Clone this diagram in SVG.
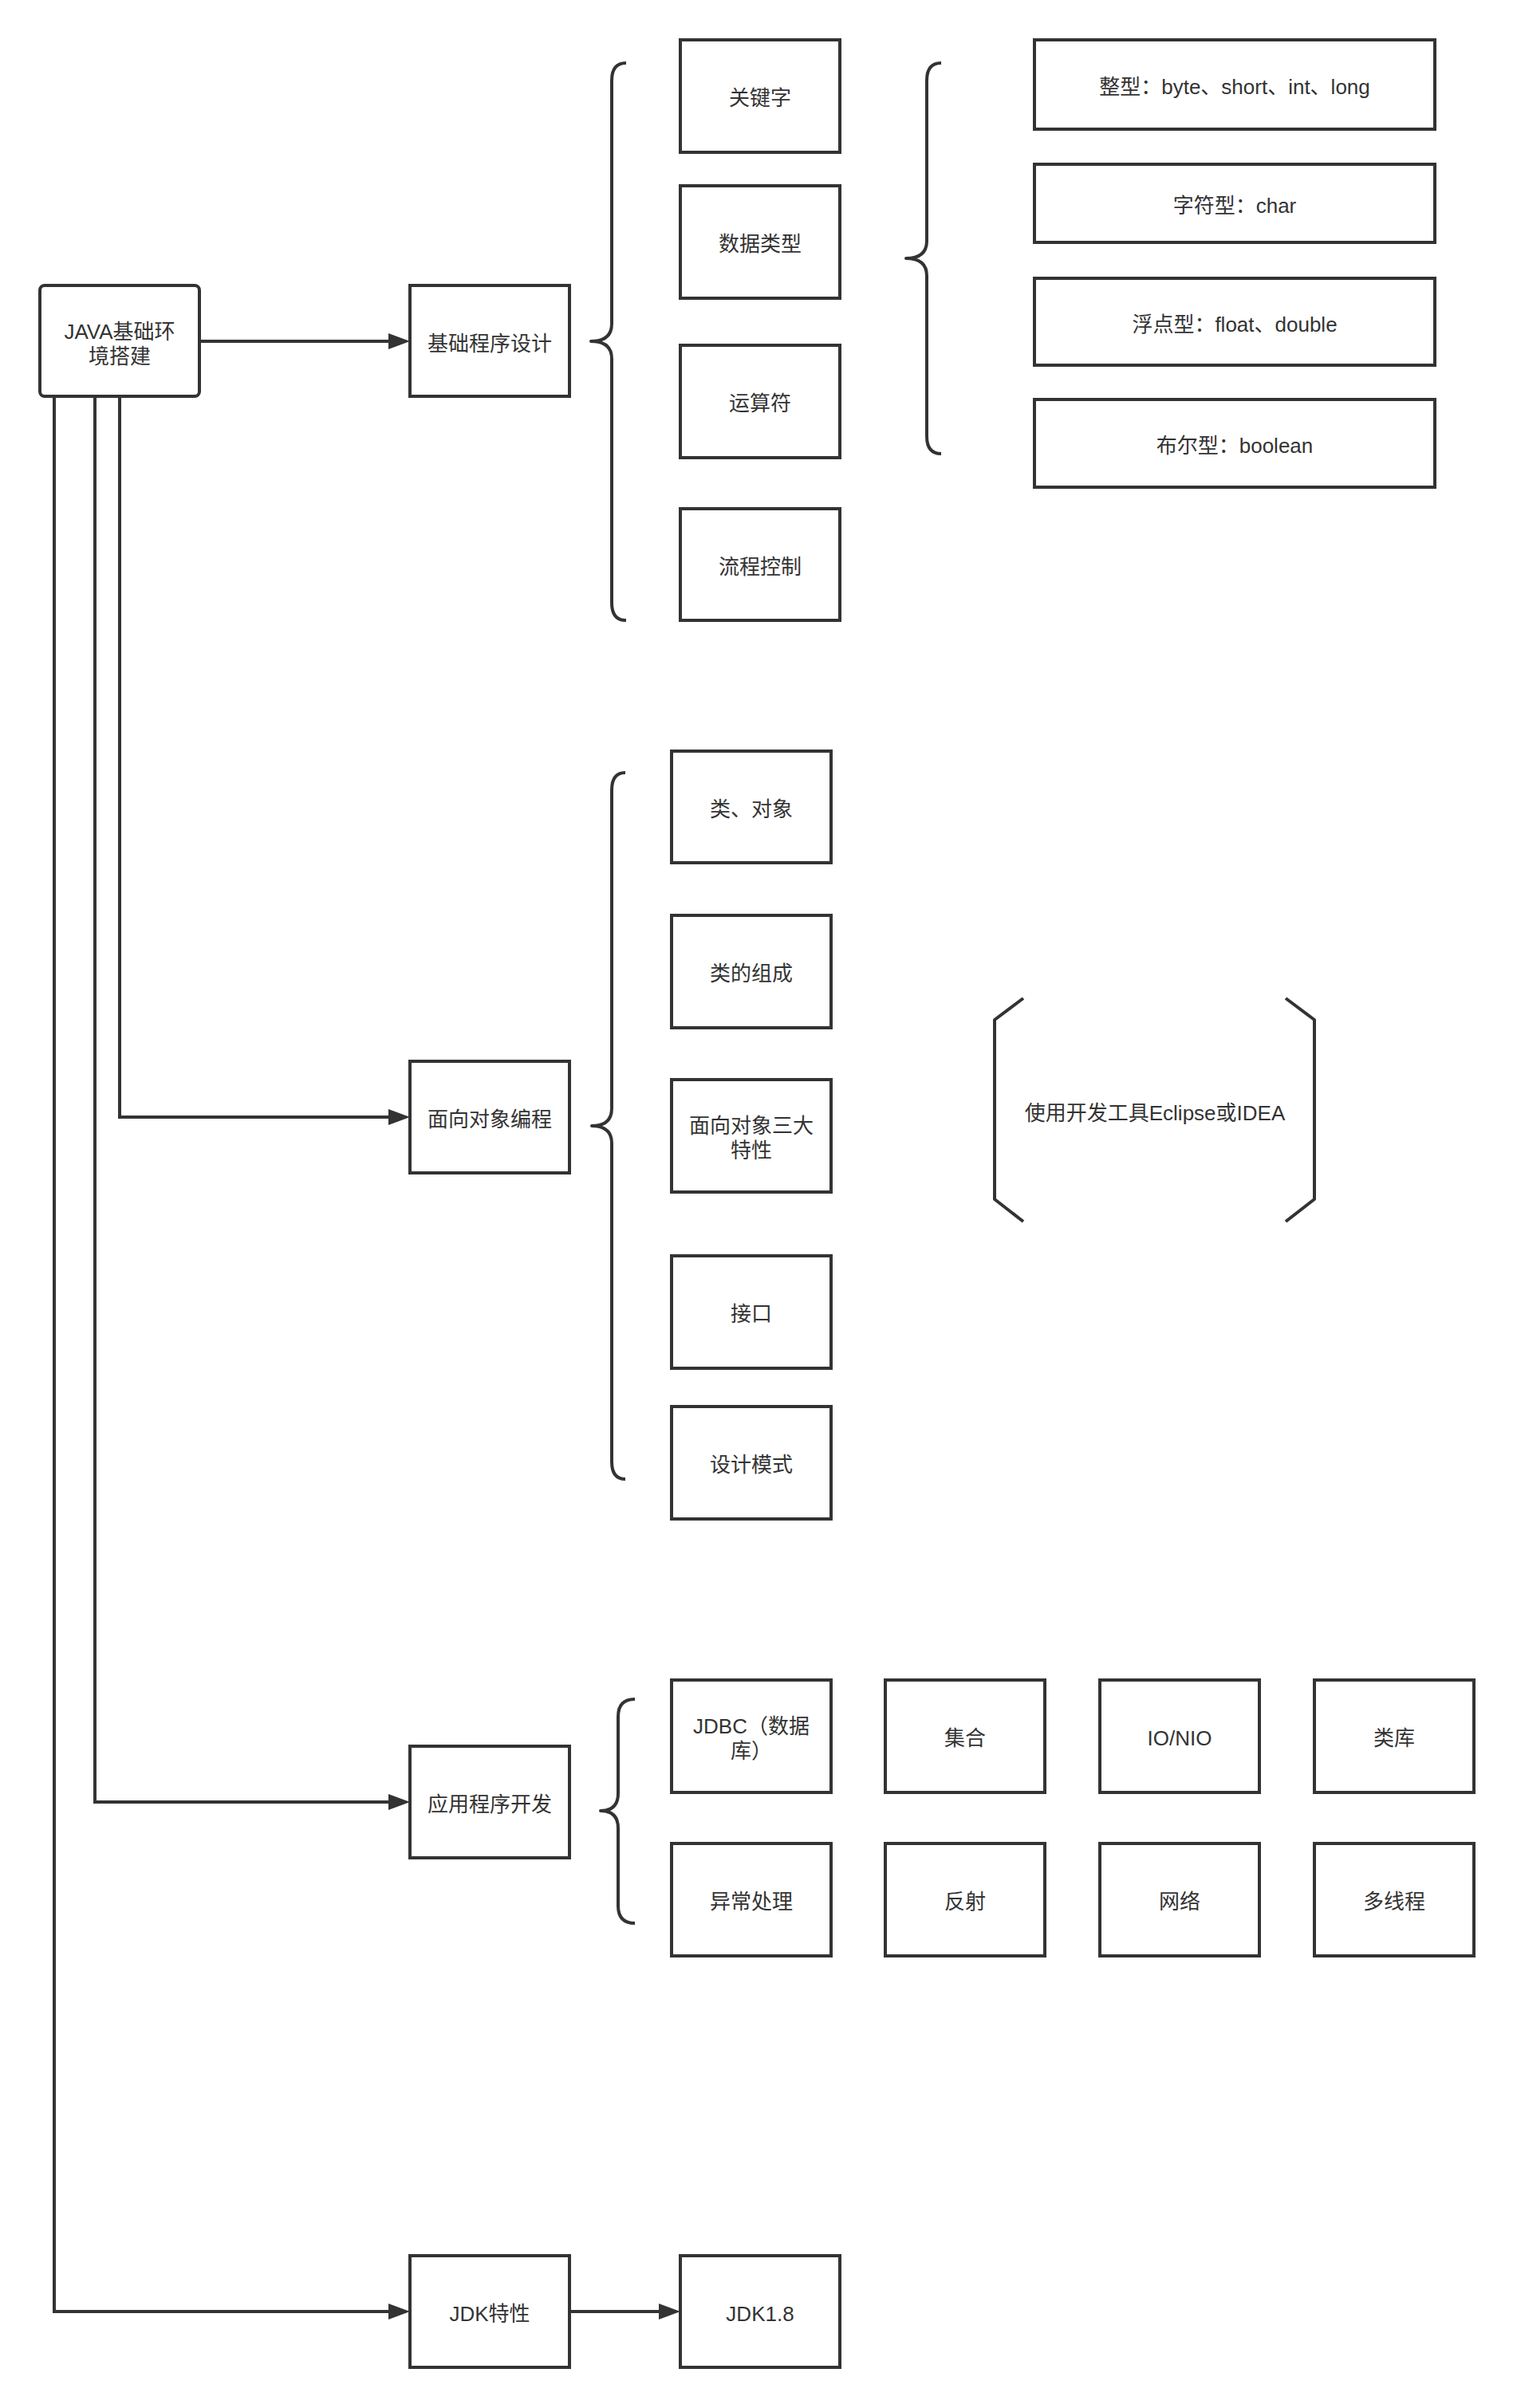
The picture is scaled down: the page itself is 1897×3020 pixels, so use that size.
<svg xmlns="http://www.w3.org/2000/svg" width="1897" height="3020" viewBox="0 0 1897 3020">
<style>
.box{fill:#ffffff;stroke:#333333;stroke-width:4}
.br{fill:none;stroke:#333333;stroke-width:4;stroke-linejoin:round}
.ln{fill:none;stroke:#333333;stroke-width:4}
text{font-family:"Liberation Sans","Noto Sans CJK SC",sans-serif;font-size:26px;fill:#333333;text-anchor:middle}
</style>
<defs>
<marker id="arr" markerUnits="userSpaceOnUse" markerWidth="28" markerHeight="20" refX="13" refY="10" orient="auto">
<path d="M0,0 L27,10 L0,20 Z" fill="#333333"/>
</marker>
</defs>
<rect width="1897" height="3020" fill="#ffffff"/>
<g id="connectors">
<path class="ln" d="M250,428 L500,428" marker-end="url(#arr)"/>
<path class="ln" d="M150,497 L150,1401 L500,1401" marker-end="url(#arr)"/>
<path class="ln" d="M119,497 L119,2260 L500,2260" marker-end="url(#arr)"/>
<path class="ln" d="M68,497 L68,2899 L500,2899" marker-end="url(#arr)"/>
<path class="ln" d="M714,2899 L839,2899" marker-end="url(#arr)"/>
</g>
<g id="n-java"><rect class="box" x="50" y="358" width="200" height="139" rx="6"/><text x="150" y="425">JAVA基础环</text><text x="150" y="456">境搭建</text></g>
<g id="n-basic"><rect class="box" x="514" y="358" width="200" height="139"/><text x="614" y="440">基础程序设计</text></g>
<g id="n-oop"><rect class="box" x="514" y="1331" width="200" height="140"/><text x="614" y="1413">面向对象编程</text></g>
<g id="n-app"><rect class="box" x="514" y="2190" width="200" height="140"/><text x="614" y="2272">应用程序开发</text></g>
<g id="n-jdk"><rect class="box" x="514" y="2829" width="200" height="140"/><text x="614" y="2911">JDK特性</text></g>
<g id="n-jdk18"><rect class="box" x="853" y="2829" width="200" height="140"/><text x="953" y="2911">JDK1.8</text></g>
<g id="b-basic"><path class="br" d="M785,79 Q767,79 767,101 L767,406 Q767,428 741,428 Q767,428 767,450 L767,756 Q767,778 785,778"/></g>
<g id="n-kw"><rect class="box" x="853" y="50" width="200" height="141"/><text x="953" y="132">关键字</text></g>
<g id="n-dt"><rect class="box" x="853" y="233" width="200" height="141"/><text x="953" y="315">数据类型</text></g>
<g id="n-op"><rect class="box" x="853" y="433" width="200" height="141"/><text x="953" y="515">运算符</text></g>
<g id="n-flow"><rect class="box" x="853" y="638" width="200" height="140"/><text x="953" y="720">流程控制</text></g>
<g id="b-dt"><path class="br" d="M1180,79 Q1162,79 1162,101 L1162,302 Q1162,324 1136,324 Q1162,324 1162,346 L1162,547 Q1162,569 1180,569"/></g>
<g id="n-int"><rect class="box" x="1297" y="50" width="502" height="112"/><text x="1548" y="118">整型：byte、short、int、long</text></g>
<g id="n-char"><rect class="box" x="1297" y="206" width="502" height="98"/><text x="1548" y="267">字符型：char</text></g>
<g id="n-float"><rect class="box" x="1297" y="349" width="502" height="109"/><text x="1548" y="416">浮点型：float、double</text></g>
<g id="n-bool"><rect class="box" x="1297" y="501" width="502" height="110"/><text x="1548" y="568">布尔型：boolean</text></g>
<g id="b-oop"><path class="br" d="M784,969 Q767,969 767,991 L767,1390 Q767,1412 742,1412 Q767,1412 767,1434 L767,1833 Q767,1855 784,1855"/></g>
<g id="n-cls"><rect class="box" x="842" y="942" width="200" height="140"/><text x="942" y="1024">类、对象</text></g>
<g id="n-comp"><rect class="box" x="842" y="1148" width="200" height="141"/><text x="942" y="1230">类的组成</text></g>
<g id="n-three"><rect class="box" x="842" y="1354" width="200" height="141"/><text x="942" y="1421">面向对象三大</text><text x="942" y="1452">特性</text></g>
<g id="n-if"><rect class="box" x="842" y="1575" width="200" height="141"/><text x="942" y="1657">接口</text></g>
<g id="n-dp"><rect class="box" x="842" y="1764" width="200" height="141"/><text x="942" y="1846">设计模式</text></g>
<g id="n-ide"><path class="br" d="M1283,1252 L1247,1279 L1247,1504 L1283,1532"/><path class="br" d="M1612,1252 L1648,1279 L1648,1504 L1612,1532"/><text x="1448" y="1405">使用开发工具Eclipse或IDEA</text></g>
<g id="b-app"><path class="br" d="M796,2131 Q775,2131 775,2153 L775,2249 Q775,2271 753,2271 Q775,2271 775,2293 L775,2390 Q775,2412 796,2412"/></g>
<g id="n-jdbc"><rect class="box" x="842" y="2107" width="200" height="141"/><text x="942" y="2174">JDBC（数据</text><text x="942" y="2205">库）</text></g>
<g id="n-coll"><rect class="box" x="1110" y="2107" width="200" height="141"/><text x="1210" y="2189">集合</text></g>
<g id="n-io"><rect class="box" x="1379" y="2107" width="200" height="141"/><text x="1479" y="2189">IO/NIO</text></g>
<g id="n-lib"><rect class="box" x="1648" y="2107" width="200" height="141"/><text x="1748" y="2189">类库</text></g>
<g id="n-exc"><rect class="box" x="842" y="2312" width="200" height="141"/><text x="942" y="2394">异常处理</text></g>
<g id="n-ref"><rect class="box" x="1110" y="2312" width="200" height="141"/><text x="1210" y="2394">反射</text></g>
<g id="n-net"><rect class="box" x="1379" y="2312" width="200" height="141"/><text x="1479" y="2394">网络</text></g>
<g id="n-mt"><rect class="box" x="1648" y="2312" width="200" height="141"/><text x="1748" y="2394">多线程</text></g>
</svg>
